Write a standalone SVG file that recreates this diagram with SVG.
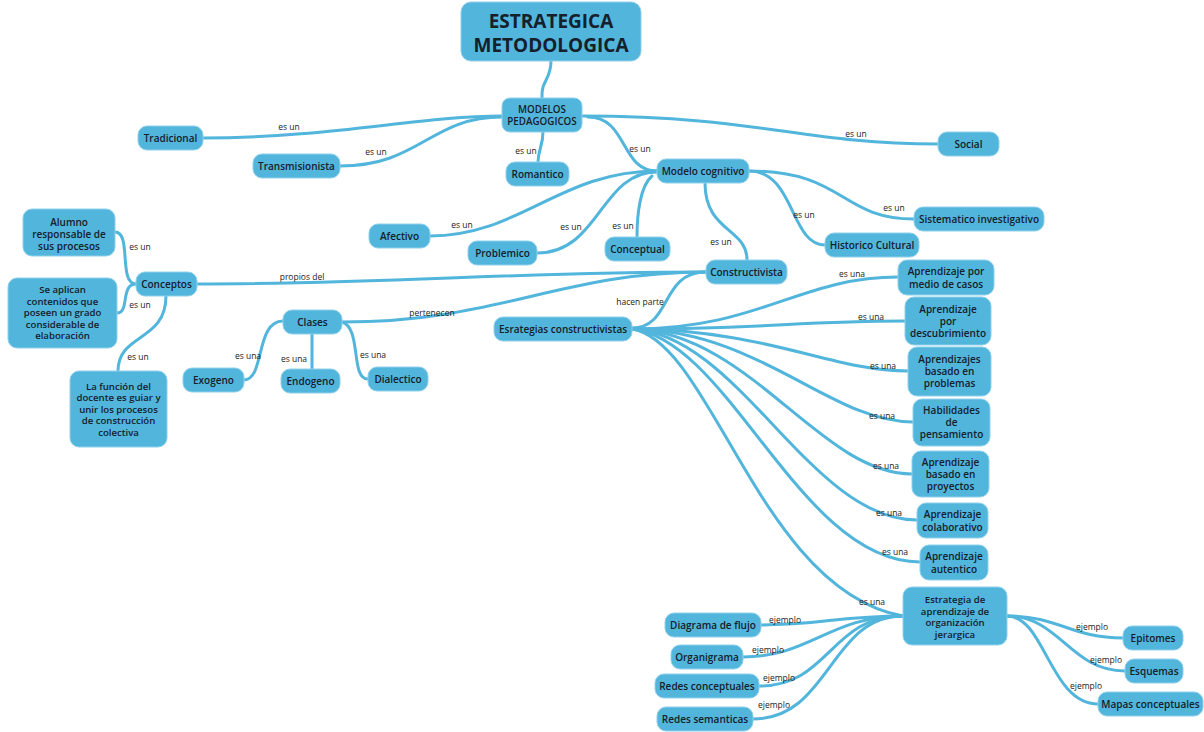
<svg xmlns="http://www.w3.org/2000/svg" width="1204" height="732" viewBox="0 0 1204 732">
<style>
.n rect{fill:#52b5dc;stroke:#8fd0eb;stroke-width:1}
.n text{font-family:"Open Sans","Liberation Sans",sans-serif;font-size:10px;font-weight:600;fill:#15202b;text-anchor:middle}
.t text{font-size:19px;font-weight:700}
.m text{font-size:9.8px}
.d text{font-size:9.6px}
#edges path{fill:none;stroke:#52b5dc;stroke-width:3;stroke-linecap:round}
#labels text{font-family:"Open Sans","Liberation Sans",sans-serif;font-size:8.5px;fill:#222;text-anchor:middle}
</style>
<rect width="1204" height="732" fill="#fff"/>
<g id="edges">
<path d="M551,61 C551,80 541,80 542,98"/>
<path d="M502,116 C420,116 330,138 203,138"/>
<path d="M502,117 C430,117 420,166 340,166"/>
<path d="M543,132 C543,146 538,150 538,162"/>
<path d="M588,117 C628,117 620,171 657,171"/>
<path d="M582,116 C760,116 800,144 938,144"/>
<path d="M657,171 C560,171 520,236 430,236"/>
<path d="M657,172 C600,172 600,253 537,253"/>
<path d="M652,176 C640,186 637,215 637,237"/>
<path d="M705,183 C705,232 747,228 747,260"/>
<path d="M749,171 C795,171 790,245 825,245"/>
<path d="M749,171 C845,171 840,219 914,219"/>
<path d="M136,284 C118,284 132,232 115,232"/>
<path d="M136,284 C120,284 130,313 117,313"/>
<path d="M166,296 C166,342 118,333 118,371"/>
<path d="M197,284 C400,284 500,272 706,272"/>
<path d="M342,322 C500,322 560,272 706,272"/>
<path d="M283,321 C255,321 265,380 244,380"/>
<path d="M312,333 L312,369"/>
<path d="M342,322 C362,328 350,379 368,379"/>
<path d="M706,272 C660,272 672,328 632,328"/>
<path d="M632,329 C760,329 800,277 898,277"/>
<path d="M632,329 C760,329 800,321 905,321"/>
<path d="M632,329 C770,330 830,371 908,371"/>
<path d="M632,329 C760,330 830,422 913,422"/>
<path d="M632,329 C750,332 820,474 912,474"/>
<path d="M632,329 C740,335 810,520 917,520"/>
<path d="M632,329 C730,340 800,562 920,562"/>
<path d="M632,329 C712,342 760,590 903,616"/>
<path d="M903,616 C840,616 820,625 761,625"/>
<path d="M903,616 C830,616 810,657 743,657"/>
<path d="M903,616 C830,616 830,686 759,686"/>
<path d="M903,616 C830,616 830,719 753,719"/>
<path d="M1007,616 C1060,616 1070,638 1123,638"/>
<path d="M1007,616 C1060,616 1070,671 1125,671"/>
<path d="M1007,616 C1045,616 1050,704 1098,704"/>
</g>
<g id="labels">
<text x="289" y="130">es un</text>
<text x="376" y="155">es un</text>
<text x="526" y="154">es un</text>
<text x="640" y="152">es un</text>
<text x="856" y="137">es un</text>
<text x="462" y="228">es un</text>
<text x="571" y="230">es un</text>
<text x="623" y="229">es un</text>
<text x="721" y="245">es un</text>
<text x="804" y="218">es un</text>
<text x="894" y="211">es un</text>
<text x="140" y="250">es un</text>
<text x="140" y="308">es un</text>
<text x="138" y="360">es un</text>
<text x="302" y="280">propios del</text>
<text x="432" y="316">pertenecen</text>
<text x="248" y="359">es una</text>
<text x="294" y="362">es una</text>
<text x="373" y="358">es una</text>
<text x="640" y="305">hacen parte</text>
<text x="852" y="277">es una</text>
<text x="871" y="320">es una</text>
<text x="883" y="369">es una</text>
<text x="882" y="419">es una</text>
<text x="886" y="469">es una</text>
<text x="889" y="516">es una</text>
<text x="895" y="555">es una</text>
<text x="872" y="605">es una</text>
<text x="785" y="623">ejemplo</text>
<text x="768" y="653">ejemplo</text>
<text x="779" y="681">ejemplo</text>
<text x="774" y="708">ejemplo</text>
<text x="1092" y="630">ejemplo</text>
<text x="1106" y="663">ejemplo</text>
<text x="1086" y="689">ejemplo</text>
</g>
<g id="title" class="n t"><rect x="461" y="2" width="180" height="59" rx="10"/><text x="551" y="28">ESTRATEGICA</text><text x="551" y="52">METODOLOGICA</text></g>
<g id="modelos" class="n m"><rect x="502" y="98" width="80" height="34" rx="8"/><text x="542" y="113">MODELOS</text><text x="542" y="125">PEDAGOGICOS</text></g>
<g id="tradicional" class="n"><rect x="138" y="126" width="65" height="24" rx="9"/><text x="170.5" y="141.5">Tradicional</text></g>
<g id="transmisionista" class="n"><rect x="253" y="154" width="87" height="24" rx="9"/><text x="296.5" y="169.5">Transmisionista</text></g>
<g id="romantico" class="n"><rect x="506" y="162" width="63" height="24" rx="9"/><text x="537.5" y="177.5">Romantico</text></g>
<g id="cognitivo" class="n"><rect x="657" y="159" width="92" height="24" rx="9"/><text x="703" y="174.5">Modelo cognitivo</text></g>
<g id="social" class="n"><rect x="938" y="132" width="61" height="24" rx="9"/><text x="968.5" y="147.5">Social</text></g>
<g id="sistematico" class="n"><rect x="914" y="207" width="130" height="24" rx="9"/><text x="979" y="222.5">Sistematico investigativo</text></g>
<g id="historico" class="n"><rect x="825" y="233" width="94" height="24" rx="9"/><text x="872" y="248.5">Historico Cultural</text></g>
<g id="afectivo" class="n"><rect x="369" y="224" width="61" height="24" rx="9"/><text x="399.5" y="239.5">Afectivo</text></g>
<g id="problemico" class="n"><rect x="468" y="241" width="69" height="24" rx="9"/><text x="502.5" y="256.5">Problemico</text></g>
<g id="conceptual" class="n"><rect x="605" y="237" width="65" height="24" rx="9"/><text x="637.5" y="252.5">Conceptual</text></g>
<g id="constructivista" class="n"><rect x="706" y="260" width="81" height="24" rx="9"/><text x="746.5" y="275.5">Constructivista</text></g>
<g id="alumno" class="n"><rect x="23" y="209" width="92" height="47" rx="9"/><text x="69" y="225.5">Alumno</text><text x="69" y="237.5">responsable de</text><text x="69" y="249.5">sus procesos</text></g>
<g id="seaplican" class="n d"><rect x="8" y="278" width="109" height="70" rx="9"/><text x="62.5" y="293">Se aplican</text><text x="62.5" y="304.5">contenidos que</text><text x="62.5" y="316">poseen un grado</text><text x="62.5" y="327.5">considerable de</text><text x="62.5" y="339">elaboración</text></g>
<g id="conceptos" class="n"><rect x="136" y="272" width="61" height="24" rx="9"/><text x="166.5" y="287.5">Conceptos</text></g>
<g id="lafuncion" class="n d"><rect x="70" y="371" width="97" height="76" rx="9"/><text x="118.5" y="389.5">La función del</text><text x="118.5" y="401">docente es guiar y</text><text x="118.5" y="412.5">unir los procesos</text><text x="118.5" y="424">de construcción</text><text x="118.5" y="435.5">colectiva</text></g>
<g id="exogeno" class="n"><rect x="183" y="368" width="61" height="24" rx="9"/><text x="213.5" y="383.5">Exogeno</text></g>
<g id="endogeno" class="n"><rect x="281" y="369" width="59" height="24" rx="9"/><text x="310.5" y="384.5">Endogeno</text></g>
<g id="dialectico" class="n"><rect x="368" y="367" width="60" height="24" rx="9"/><text x="398" y="382.5">Dialectico</text></g>
<g id="clases" class="n"><rect x="283" y="310" width="59" height="24" rx="9"/><text x="312.5" y="325.5">Clases</text></g>
<g id="esrategias" class="n"><rect x="494" y="317" width="138" height="24" rx="9"/><text x="563" y="332.5">Esrategias constructivistas</text></g>
<g id="casos" class="n"><rect x="898" y="260" width="96" height="35" rx="9"/><text x="946" y="274.5">Aprendizaje por</text><text x="946" y="287.5">medio de casos</text></g>
<g id="descubrimiento" class="n"><rect x="905" y="297" width="86" height="48" rx="9"/><text x="948" y="312.5">Aprendizaje</text><text x="948" y="324.5">por</text><text x="948" y="336.5">descubrimiento</text></g>
<g id="problemas" class="n"><rect x="908" y="347" width="83" height="49" rx="9"/><text x="949.5" y="362.5">Aprendizajes</text><text x="949.5" y="374.5">basado en</text><text x="949.5" y="386.5">problemas</text></g>
<g id="habilidades" class="n"><rect x="913" y="399" width="77" height="47" rx="9"/><text x="951.5" y="413.5">Habilidades</text><text x="951.5" y="425.5">de</text><text x="951.5" y="437.5">pensamiento</text></g>
<g id="proyectos" class="n"><rect x="912" y="451" width="77" height="46" rx="9"/><text x="950.5" y="465.5">Aprendizaje</text><text x="950.5" y="477.5">basado en</text><text x="950.5" y="489.5">proyectos</text></g>
<g id="colaborativo" class="n"><rect x="917" y="503" width="71" height="35" rx="9"/><text x="952.5" y="517.5">Aprendizaje</text><text x="952.5" y="530.5">colaborativo</text></g>
<g id="autentico" class="n"><rect x="920" y="545" width="68" height="35" rx="9"/><text x="954" y="559.5">Aprendizaje</text><text x="954" y="572.5">autentico</text></g>
<g id="jerargica" class="n d"><rect x="903" y="587" width="104" height="58" rx="9"/><text x="955" y="603">Estrategia de</text><text x="955" y="614.5">aprendizaje de</text><text x="955" y="626">organización</text><text x="955" y="637.5">jerargica</text></g>
<g id="diagrama" class="n"><rect x="665" y="613" width="96" height="24" rx="9"/><text x="713" y="628.5">Diagrama de flujo</text></g>
<g id="organigrama" class="n"><rect x="671" y="645" width="72" height="24" rx="9"/><text x="707" y="660.5">Organigrama</text></g>
<g id="redesconceptuales" class="n"><rect x="655" y="674" width="104" height="24" rx="9"/><text x="707" y="689.5">Redes conceptuales</text></g>
<g id="redessemanticas" class="n"><rect x="657" y="707" width="96" height="24" rx="9"/><text x="705" y="722.5">Redes semanticas</text></g>
<g id="epitomes" class="n"><rect x="1123" y="626" width="60" height="24" rx="9"/><text x="1153" y="641.5">Epitomes</text></g>
<g id="esquemas" class="n"><rect x="1125" y="659" width="58" height="24" rx="9"/><text x="1154" y="674.5">Esquemas</text></g>
<g id="mapas" class="n"><rect x="1098" y="692" width="105" height="24" rx="9"/><text x="1150.5" y="707.5">Mapas conceptuales</text></g>
</svg>
